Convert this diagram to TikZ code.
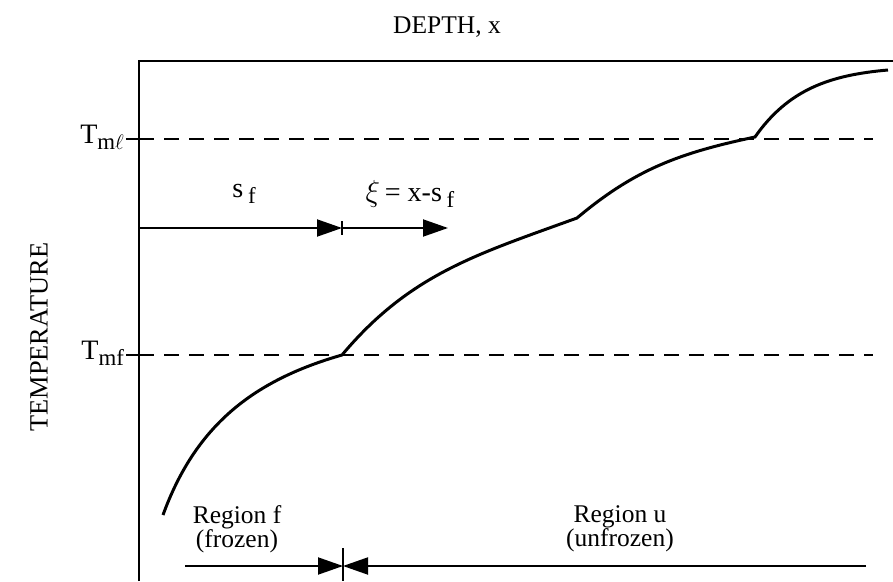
\documentclass[tikz,border=0pt]{standalone}
\usepackage{fontspec}
\setmainfont{Liberation Serif}
\usetikzlibrary{arrows.meta}
\newcommand{\lowsub}[1]{\raisebox{-0.45ex}{\fontsize{13}{13}\selectfont #1}}
\tikzset{
  axisline/.style={line width=1.3pt},
  levelline/.style={line width=1.2pt,dash pattern=on 0.3cm off 0.2cm},
  bigtip/.style={line width=1.1pt,-{Triangle[length=0.5cm,width=0.34cm]}},
  meltcurve/.style={line width=1.7pt},
  biglabel/.style={font=\fontsize{16}{16}\selectfont},
}

\begin{document}
\begin{tikzpicture}[font=\fontsize{14.5}{13.5}\selectfont]
  \useasboundingbox (0,0) rectangle (17.86,11.62);
  \coordinate (origin) at (2.78,0);
  \coordinate (corner) at (2.78,10.4);
  \coordinate (topend) at (17.86,10.4);
  \draw[axisline] (origin) -- (corner) -- (topend);
  \node (depth) at (8.94,11.08) {DEPTH, x};
  \node[rotate=90,font=\fontsize{15}{15}\selectfont] (temp) at (0.78,4.88) {TEMPERATURE};
  \foreach \y/\n/\l in {
    8.84/ml/{T\lowsub{m$\ell$}}, 4.52/mf/{T\lowsub{mf}}}{
    \coordinate (lev\n) at (2.78,\y);
    \coordinate (tick\n) at (2.52,\y);
    \coordinate (end\n) at (17.46,\y);
    \node[biglabel,anchor=east,inner sep=1pt] (lab\n) at ([yshift=0.04cm]tick\n) {\l};
    \draw[axisline] (tick\n) -- (lev\n);
    \draw[levelline] (lev\n) -- (end\n);
  }
  \coordinate (a0) at (2.78,7.06);
  \coordinate (a1) at (6.84,7.06);
  \coordinate (a2) at (8.96,7.06);
  \draw[bigtip] (a0) -- (a1);
  \draw[bigtip] (a1) -- (a2);
  \draw[line width=1pt] ([yshift=0.14cm]a1) -- ([yshift=-0.14cm]a1);
  \node[biglabel] (sf) at (4.88,7.74) {s\,\lowsub{f}};
  \node[biglabel] (xi) at (8.2,7.74) {$\xi$\,= x-s\,\lowsub{f}};
  \coordinate (p0) at (3.26,1.32);
  \coordinate (p1) at (6.84,4.52);
  \coordinate (p2) at (11.54,7.26);
  \coordinate (p3) at (15.1,8.88);
  \coordinate (p4) at (17.76,10.22);
  \draw[meltcurve] (p0) to[out=70,in=196] (p1) to[out=50,in=200] (p2)
    to[out=40,in=192] (p3) to[out=55,in=185] (p4);
  \coordinate (b0) at (3.7,0.3);
  \coordinate (b1) at (6.86,0.3);
  \coordinate (b2) at (17.32,0.3);
  \draw[bigtip] (b0) -- (b1);
  \draw[bigtip] (b2) -- (b1);
  \draw[line width=1pt] (6.86,0.66) -- (6.86,0);
  \node[align=center] (regf) at (4.74,1.04) {Region f\\(frozen)};
  \node[align=center] (regu) at (12.4,1.04) {Region u\\(unfrozen)};
\end{tikzpicture}
\end{document}
